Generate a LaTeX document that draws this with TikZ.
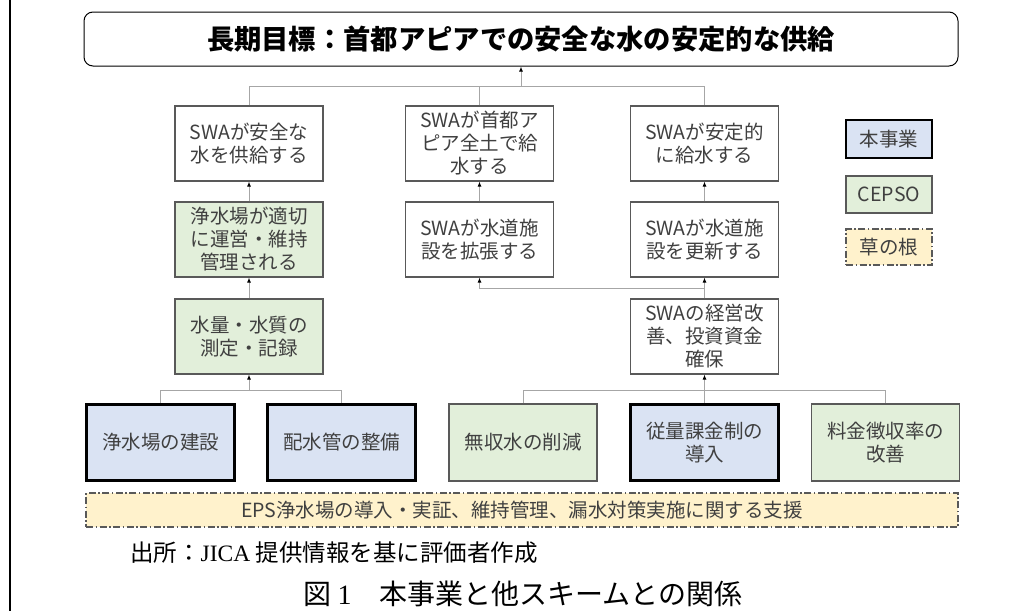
\documentclass[tikz,border=0pt]{standalone}
\usepackage{fontspec}
\setmainfont{Noto Sans CJK JP}
\newfontfamily\latinserif{Liberation Serif}
\usetikzlibrary{arrows.meta}
\definecolor{txt}{HTML}{404040}
\definecolor{bord}{HTML}{595959}
\definecolor{conn}{HTML}{A6A6A6}
\definecolor{bluef}{HTML}{DAE3F3}
\definecolor{greenf}{HTML}{E2EFDA}
\definecolor{yellowf}{HTML}{FFF2CC}
\tikzset{
  box/.style={draw=bord, line width=1.1pt, fill=white, minimum width=148pt, minimum height=75pt, inner sep=0pt, align=center, text=txt, font=\fontsize{19.5}{23}\selectfont},
  gbox/.style={box, fill=greenf},
  bbox/.style={box, fill=bluef, draw=black, line width=2.6pt, minimum height=76pt},
  ybox/.style={box, fill=yellowf, dash pattern=on 7pt off 2.5pt on 1.5pt off 2.5pt},
  conline/.style={draw=conn, line width=1pt},
  arr/.style={conline, -{Latex[length=5pt,width=4pt,color=black]}},
}
\begin{document}
\begin{tikzpicture}[x=1pt,y=-1pt]
\useasboundingbox (0,0) rectangle (1024,611);
\draw[line width=2.6pt] (10,0) -- (10,611);
% title
\node[draw=black, line width=1pt, rounded corners=9pt, minimum width=874pt, minimum height=54pt, inner sep=0pt, font=\fontsize{27.3}{30}\selectfont\bfseries] (title) at (521,39) {長期目標：首都アピアでの安全な水の安定的な供給};
% column 1
\node[box] (c1r1) at (249,143.5) {SWAが安全な\\水を供給する};
\node[gbox] (c1r2) at (249,239.5) {浄水場が適切\\に運営・維持\\管理される};
\node[gbox] (c1r3) at (249,336.5) {水量・水質の\\測定・記録};
% column 2
\node[box] (c2r1) at (479.5,143.5) {SWAが首都ア\\ピア全土で給\\水する};
\node[box] (c2r2) at (479.5,239.5) {SWAが水道施\\設を拡張する};
% column 3
\node[box] (c3r1) at (704.5,143.5) {SWAが安定的\\に給水する};
\node[box] (c3r2) at (704.5,239.5) {SWAが水道施\\設を更新する};
\node[box] (c3r3) at (704.5,336.5) {SWAの経営改\\善、投資資金\\確保};
% bottom row
\node[bbox] (b1) at (160.5,442.5) {浄水場の建設};
\node[bbox] (b2) at (341.5,442.5) {配水管の整備};
\node[gbox, minimum height=77pt] (b3) at (523,442.5) {無収水の削減};
\node[bbox] (b4) at (704.5,442.5) {従量課金制の\\導入};
\node[gbox, minimum height=77pt] (b5) at (885.5,442.5) {料金徴収率の\\改善};
% legend
\node[bbox, minimum width=86pt, minimum height=38pt] (l1) at (889,139) {本事業};
\node[gbox, minimum width=86pt, minimum height=37pt] (l2) at (889,194.5) {CEPSO};
\node[ybox, minimum width=86pt, minimum height=36pt] (l3) at (889,247) {草の根};
% banner
\node[ybox, minimum width=872pt, minimum height=34pt] (ban) at (522,510) {EPS浄水場の導入・実証、維持管理、漏水対策実施に関する支援};
% source and caption
\node[anchor=west, inner sep=0pt, font=\fontsize{23.5}{26}\selectfont] (src) at (130,553) {出所：{\latinserif JICA} 提供情報を基に評価者作成};
\node[inner sep=0pt, font=\fontsize{28}{30}\selectfont] (cap) at (523,594) {図 {\latinserif 1}　本事業と他スキームとの関係};
% connectors
\coordinate (tj) at (521,86);
\draw[conline] (c1r1.north) -- (c1r1.north |- tj) -| (c3r1.north);
\draw[conline] (c2r1.north) -- (c2r1.north |- tj);
\draw[arr] (tj) -- (title.south);
\draw[arr] (c1r2.north) -- (c1r1.south);
\draw[arr] (c1r3.north) -- (c1r2.south);
\draw[arr] (c2r2.north) -- (c2r1.south);
\draw[arr] (c3r2.north) -- (c3r1.south);
\draw[arr] (c3r3.north) -- (c3r2.south);
\coordinate (mj) at (704.5,288);
\draw[arr] (mj) -| (c2r2.south);
\coordinate (lj) at (249,390);
\draw[conline] (b1.north) -- (b1.north |- lj) -| (b2.north);
\draw[arr] (lj) -- (c1r3.south);
\coordinate (rj) at (704.5,390);
\draw[conline] (b3.north) -- (b3.north |- rj) -| (b5.north);
\draw[arr] (b4.north) -- (c3r3.south);
\end{tikzpicture}
\end{document}
